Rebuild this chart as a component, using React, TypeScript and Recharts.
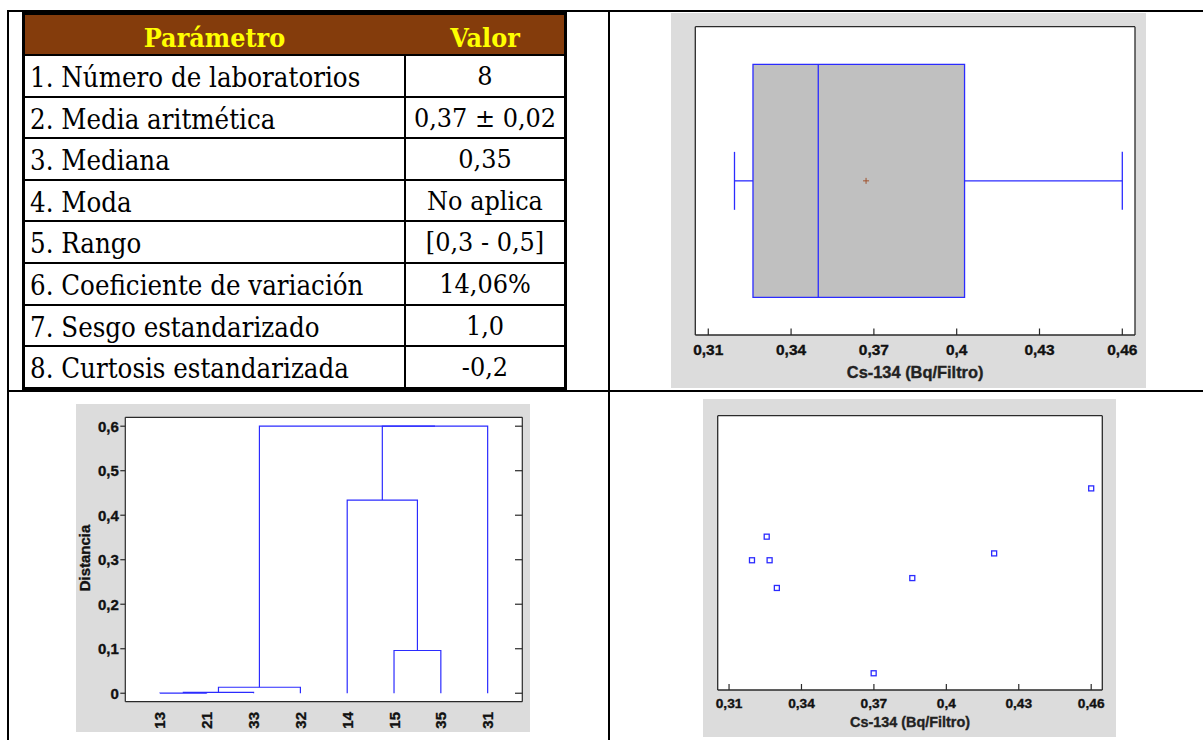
import React from 'react';
import {
  ComposedChart,
  Scatter,
  XAxis,
  YAxis,
  CartesianGrid,
  ReferenceArea,
  ReferenceLine,
  Label,
} from 'recharts';

// ---------- data ----------
const PARAM_LABELS = [
  '1. Número de laboratorios',
  '2. Media aritmética',
  '3. Mediana',
  '4. Moda',
  '5. Rango',
  '6. Coeficiente de variación',
  '7. Sesgo estandarizado',
  '8. Curtosis estandarizada',
];
const PARAM_VALUES = ['8', '0,37 ± 0,02', '0,35', 'No aplica', '[0,3 - 0,5]', '14,06%', '1,0', '-0,2'];

// Cs-134 results (Bq/Filtro), one per laboratory
const CS134_VALUES = [0.3195, 0.3256, 0.3268, 0.3298, 0.3699, 0.3859, 0.4198, 0.46];
// vertical jitter used by the dot plot (0..1)
const CS134_JITTER = [0.473, 0.559, 0.473, 0.372, 0.061, 0.408, 0.498, 0.735];
const CS_TICKS = [0.31, 0.34, 0.37, 0.4, 0.43, 0.46];
const CS_DOMAIN: [number, number] = [0.3053, 0.4646];

// dendrogram
const LEAF_LABELS = ['13', '21', '33', '32', '14', '15', '35', '31'];
// [nodeA, nodeB, distance]; leaves are 0..7, merged clusters get ids 8, 9, ...
const LINKAGE: [number, number, number][] = [
  [0, 1, 0.0003],
  [8, 2, 0.002],
  [9, 3, 0.0135],
  [5, 6, 0.096],
  [4, 11, 0.434],
  [12, 7, 0.6],
  [10, 13, 0.6],
];
const DIST_TICKS = [0, 0.1, 0.2, 0.3, 0.4, 0.5, 0.6];

// ---------- styles ----------
const BLUE = '#2b2bff';
const FRAME = '#2a2a2a';
const PANEL = '#dcdcdc';
const CHART_FONT = '"Liberation Sans", Arial, Helvetica, sans-serif';
const TABLE_FONT = '"DejaVu Serif", "Liberation Serif", serif';
const TXT = '#111';
const TXT_STROKE = 0.35;

const fmt = (v: number) => String(v).replace('.', ',');

// ---------- helpers ----------
function median(a: number[]) {
  const s = [...a].sort((p, q) => p - q);
  const n = s.length;
  return n % 2 ? s[(n - 1) / 2] : (s[n / 2 - 1] + s[n / 2]) / 2;
}
function boxStats(vals: number[]) {
  const s = [...vals].sort((p, q) => p - q);
  const n = s.length;
  const lower = s.slice(0, Math.floor(n / 2));
  const upper = s.slice(Math.ceil(n / 2));
  return {
    min: s[0],
    max: s[n - 1],
    q1: median(lower),
    q3: median(upper),
    med: median(s),
    mean: s.reduce((t, v) => t + v, 0) / n,
  };
}

function BottomTick(props: any) {
  const { x, y, payload, fs, dy0, len } = props;
  return (
    <g>
      <line x1={x} y1={y} x2={x} y2={y - len} stroke={FRAME} strokeWidth={1.2} />
      <text
        x={x}
        y={y + dy0}
        textAnchor="middle"
        dominantBaseline="central"
        fontFamily={CHART_FONT}
        fontWeight="bold"
        fontSize={fs}
        fill={TXT}
        stroke={TXT}
        strokeWidth={TXT_STROKE}
      >
        {fmt(payload.value)}
      </text>
    </g>
  );
}
function TopTick(props: any) {
  const { x, y, len } = props;
  return <line x1={x} y1={y} x2={x} y2={y + len} stroke={FRAME} strokeWidth={1.2} />;
}
function RightTick(props: any) {
  const { x, y, len } = props;
  return <line x1={x} y1={y} x2={x - len} y2={y} stroke={FRAME} strokeWidth={1.2} />;
}
function LeftTick(props: any) {
  const { x, y, payload } = props;
  // x is the label anchor (tick end minus margin)
  return (
    <g>
      <line x1={x + 1} y1={y} x2={x + 6} y2={y} stroke={FRAME} strokeWidth={1.2} />
      <text
        x={x - 0.5}
        y={y}
        textAnchor="end"
        dominantBaseline="central"
        fontFamily={CHART_FONT}
        fontWeight="bold"
        fontSize={15}
        fill={TXT}
        stroke={TXT}
        strokeWidth={TXT_STROKE}
      >
        {fmt(payload.value)}
      </text>
    </g>
  );
}
function LeafTick(props: any) {
  const { x, y, payload } = props;
  const ty = y + 10.3;
  return (
    <text
      x={x}
      y={ty}
      transform={`rotate(-90, ${x}, ${ty})`}
      textAnchor="end"
      dominantBaseline="central"
      fontFamily={CHART_FONT}
      fontWeight="bold"
      fontSize={15}
      fill={TXT}
      stroke={TXT}
      strokeWidth={TXT_STROKE}
    >
      {LEAF_LABELS[payload.value]}
    </text>
  );
}
const NoShape = () => <g />;
function MeanCross(props: any) {
  const { cx, cy } = props;
  return (
    <g stroke="#a0522d" strokeWidth={1}>
      <line x1={cx - 3} y1={cy} x2={cx + 3} y2={cy} />
      <line x1={cx} y1={cy - 3} x2={cx} y2={cy + 3} />
    </g>
  );
}
function HollowSquare(props: any) {
  const { cx, cy } = props;
  return <rect x={cx - 2.5} y={cy - 2.5} width={5} height={5} fill="#fff" stroke={BLUE} strokeWidth={1.3} />;
}

function xTitle(text: string, dy: number, fs: number) {
  return (
    <Label
      content={(p: any) => {
        const vb = p.viewBox || {};
        return (
          <text
            x={vb.x + vb.width / 2}
            y={vb.y + dy}
            textAnchor="middle"
            dominantBaseline="central"
            fontFamily={CHART_FONT}
            fontWeight="bold"
            fontSize={fs}
            fill="#222"
            stroke="#222"
            strokeWidth={TXT_STROKE}
          >
            {text}
          </text>
        );
      }}
    />
  );
}

// ---------- table ----------
function ParamTable() {
  const pitch = 41.6;
  return (
    <div style={{ position: 'absolute', left: 22, top: 10, width: 545, height: 380, background: '#000' }}>
      <div
        style={{
          position: 'absolute',
          left: 3,
          top: 5,
          width: 539,
          height: 39,
          background: '#843c0c',
          color: '#ffff00',
          fontFamily: TABLE_FONT,
          fontWeight: 'bold',
          fontSize: 24,
        }}
      >
        <div style={{ position: 'absolute', left: 0, width: 379, top: 3, lineHeight: '39px', textAlign: 'center', transform: 'scaleY(1.1)' }}>
          Parámetro
        </div>
        <div style={{ position: 'absolute', left: 381, width: 158, top: 3, lineHeight: '39px', textAlign: 'center', transform: 'scaleY(1.1)' }}>
          Valor
        </div>
      </div>
      {PARAM_LABELS.map((lab, k) => {
        const top = 46 + k * pitch;
        const h = pitch - 2;
        return (
          <React.Fragment key={lab}>
            <div
              style={{
                position: 'absolute',
                left: 3,
                top,
                width: 379,
                height: h,
                background: '#fff',
                fontFamily: TABLE_FONT,
                fontSize: 24.6,
                lineHeight: `${h}px`,
                paddingLeft: 5,
                boxSizing: 'border-box',
                whiteSpace: 'nowrap',
                color: '#000',
              }}
            >
              <div style={{ position: 'relative', top: 2, transform: 'scaleY(1.1)', transformOrigin: 'left center' }}>{lab}</div>
            </div>
            <div
              style={{
                position: 'absolute',
                left: 384,
                top,
                width: 158,
                height: h,
                background: '#fff',
                fontFamily: TABLE_FONT,
                fontSize: 24,
                lineHeight: `${h}px`,
                textAlign: 'center',
                whiteSpace: 'nowrap',
                color: '#000',
              }}
            >
              <div style={{ position: 'relative', top: 1, transform: 'scaleY(1.1)' }}>{PARAM_VALUES[k]}</div>
            </div>
          </React.Fragment>
        );
      })}
    </div>
  );
}

// ---------- box plot ----------
function BoxPlot() {
  const s = boxStats(CS134_VALUES);
  const lo = 0.122;
  const hi = 0.878;
  const cLo = 0.406;
  const cHi = 0.594;
  const mid = 0.5;
  const axisLine = { stroke: FRAME, strokeWidth: 1.3 };
  return (
    <div style={{ position: 'absolute', left: 671, top: 13, width: 475, height: 375, background: PANEL }}>
      <ComposedChart width={475} height={375} margin={{ top: 12.7, right: 10, bottom: 13, left: 23.3 }}>
        <CartesianGrid xAxisId="b" yAxisId="l" horizontal={false} vertical={false} fill="#fff" />
        <XAxis
          xAxisId="b"
          type="number"
          dataKey="x"
          domain={CS_DOMAIN}
          ticks={CS_TICKS}
          interval={0}
          allowDataOverflow
          height={40}
          tickSize={0}
          tickMargin={0}
          tickLine={false}
          axisLine={axisLine}
          tick={<BottomTick fs={15.5} dy0={14.5} len={6.5} />}
          label={xTitle('Cs-134 (Bq/Filtro)', 36.5, 16.4)}
        />
        <XAxis
          xAxisId="t"
          orientation="top"
          type="number"
          domain={CS_DOMAIN}
          ticks={CS_TICKS}
          interval={0}
          allowDataOverflow
          height={1}
          tickSize={0}
          tickMargin={0}
          tickLine={false}
          axisLine={axisLine}
          tick={<TopTick len={6.5} />}
        />
        <YAxis yAxisId="l" type="number" dataKey="y" domain={[0, 1]} allowDataOverflow width={1} tick={false} tickLine={false} axisLine={axisLine} />
        <YAxis yAxisId="r" orientation="right" type="number" domain={[0, 1]} allowDataOverflow width={1} tick={false} tickLine={false} axisLine={axisLine} />
        <ReferenceArea xAxisId="b" yAxisId="l" x1={s.q1} x2={s.q3} y1={lo} y2={hi} fill="#c0c0c0" fillOpacity={1} stroke={BLUE} strokeWidth={1.3} />
        <ReferenceLine xAxisId="b" yAxisId="l" segment={[{ x: s.med, y: lo }, { x: s.med, y: hi }]} stroke={BLUE} strokeWidth={1.3} />
        <ReferenceLine xAxisId="b" yAxisId="l" segment={[{ x: s.min, y: mid }, { x: s.q1, y: mid }]} stroke={BLUE} strokeWidth={1.3} />
        <ReferenceLine xAxisId="b" yAxisId="l" segment={[{ x: s.q3, y: mid }, { x: s.max, y: mid }]} stroke={BLUE} strokeWidth={1.3} />
        <ReferenceLine xAxisId="b" yAxisId="l" segment={[{ x: s.min, y: cLo }, { x: s.min, y: cHi }]} stroke={BLUE} strokeWidth={1.3} />
        <ReferenceLine xAxisId="b" yAxisId="l" segment={[{ x: s.max, y: cLo }, { x: s.max, y: cHi }]} stroke={BLUE} strokeWidth={1.3} />
        <Scatter xAxisId="b" yAxisId="l" data={[{ x: s.mean, y: mid }]} shape={<MeanCross />} isAnimationActive={false} />
      </ComposedChart>
    </div>
  );
}

// ---------- dendrogram ----------
function Dendrogram() {
  const pos: number[] = LEAF_LABELS.map((_, i) => i);
  const ht: number[] = LEAF_LABELS.map(() => 0);
  const links: { x: number; y: number }[][] = [];
  LINKAGE.forEach(([a, b, d]) => {
    links.push([
      { x: pos[a], y: ht[a] },
      { x: pos[a], y: d },
      { x: pos[b], y: d },
      { x: pos[b], y: ht[b] },
    ]);
    pos.push((pos[a] + pos[b]) / 2);
    ht.push(d);
  });
  const axisLine = { stroke: FRAME, strokeWidth: 1.2 };
  const xDomain: [number, number] = [-0.74, 7.74];
  const yDomain: [number, number] = [-0.019, 0.62];
  return (
    <div style={{ position: 'absolute', left: 76, top: 404, width: 454, height: 328, background: PANEL }}>
      <ComposedChart width={454} height={328} margin={{ top: 12.3, right: 6.7, bottom: 2.3, left: 9.3 }}>
        <CartesianGrid xAxisId="b" yAxisId="l" horizontal={false} vertical={false} fill="#fff" />
        <XAxis
          xAxisId="b"
          type="number"
          dataKey="x"
          domain={xDomain}
          ticks={LEAF_LABELS.map((_, i) => i)}
          interval={0}
          allowDataOverflow
          height={28}
          tickSize={0}
          tickMargin={0}
          tickLine={false}
          axisLine={axisLine}
          tick={<LeafTick />}
        />
        <XAxis xAxisId="t" orientation="top" type="number" domain={xDomain} allowDataOverflow height={1} tick={false} tickLine={false} axisLine={axisLine} />
        <YAxis
          yAxisId="l"
          type="number"
          dataKey="y"
          domain={yDomain}
          ticks={DIST_TICKS}
          interval={0}
          allowDataOverflow
          width={40}
          tickSize={5}
          tickMargin={1}
          tickLine={false}
          axisLine={axisLine}
          tick={<LeftTick />}
          label={
            <Label
              content={(p: any) => {
                const vb = p.viewBox || {};
                const cx = vb.x - 1.3;
                const cy = vb.y + vb.height / 2 - 1.5;
                return (
                  <text
                    x={cx}
                    y={cy}
                    transform={`rotate(-90, ${cx}, ${cy})`}
                    textAnchor="middle"
                    dominantBaseline="central"
                    fontFamily={CHART_FONT}
                    fontWeight="bold"
                    fontSize={15}
                    fill={TXT}
                    stroke={TXT}
                    strokeWidth={TXT_STROKE}
                  >
                    Distancia
                  </text>
                );
              }}
            />
          }
        />
        <YAxis
          yAxisId="r"
          orientation="right"
          type="number"
          domain={yDomain}
          ticks={DIST_TICKS}
          interval={0}
          allowDataOverflow
          width={1}
          tickSize={0}
          tickMargin={0}
          tickLine={false}
          axisLine={axisLine}
          tick={<RightTick len={7.3} />}
        />
        {links.map((pts, i) => (
          <Scatter
            key={i}
            xAxisId="b"
            yAxisId="l"
            data={pts}
            line={{ stroke: BLUE, strokeWidth: 1.2 }}
            lineType="joint"
            shape={<NoShape />}
            isAnimationActive={false}
          />
        ))}
      </ComposedChart>
    </div>
  );
}

// ---------- dot plot ----------
function DotPlot() {
  const pts = CS134_VALUES.map((v, i) => ({ x: v, y: CS134_JITTER[i] }));
  const axisLine = { stroke: FRAME, strokeWidth: 1.3 };
  return (
    <div style={{ position: 'absolute', left: 703, top: 399, width: 413, height: 338, background: PANEL }}>
      <ComposedChart width={413} height={338} margin={{ top: 15.7, right: 12.7, bottom: 7, left: 13.7 }}>
        <CartesianGrid xAxisId="b" yAxisId="l" horizontal={false} vertical={false} fill="#fff" />
        <XAxis
          xAxisId="b"
          type="number"
          dataKey="x"
          domain={CS_DOMAIN}
          ticks={CS_TICKS}
          interval={0}
          allowDataOverflow
          height={40}
          tickSize={0}
          tickMargin={0}
          tickLine={false}
          axisLine={axisLine}
          tick={<BottomTick fs={13.7} dy0={13.5} len={6} />}
          label={xTitle('Cs-134 (Bq/Filtro)', 32, 14.4)}
        />
        <XAxis
          xAxisId="t"
          orientation="top"
          type="number"
          domain={CS_DOMAIN}
          ticks={CS_TICKS}
          interval={0}
          allowDataOverflow
          height={1}
          tickSize={0}
          tickMargin={0}
          tickLine={false}
          axisLine={axisLine}
          tick={<TopTick len={6} />}
        />
        <YAxis yAxisId="l" type="number" dataKey="y" domain={[0, 1]} allowDataOverflow width={1} tick={false} tickLine={false} axisLine={axisLine} />
        <YAxis yAxisId="r" orientation="right" type="number" domain={[0, 1]} allowDataOverflow width={1} tick={false} tickLine={false} axisLine={axisLine} />
        <Scatter xAxisId="b" yAxisId="l" data={pts} shape={<HollowSquare />} isAnimationActive={false} />
      </ComposedChart>
    </div>
  );
}

export default function App() {
  const line = (l: number, t: number, w: number, h: number) => (
    <div style={{ position: 'absolute', left: l, top: t, width: w, height: h, background: '#000' }} />
  );
  return (
    <div style={{ position: 'absolute', left: 0, top: 0, width: 1203, height: 740, background: '#fff', overflow: 'hidden' }}>
      {line(7, 10, 1196, 2)}
      {line(7, 10, 2, 730)}
      {line(608, 10, 2, 730)}
      {line(7, 390, 1196, 2)}
      <ParamTable />
      <BoxPlot />
      <Dendrogram />
      <DotPlot />
    </div>
  );
}
